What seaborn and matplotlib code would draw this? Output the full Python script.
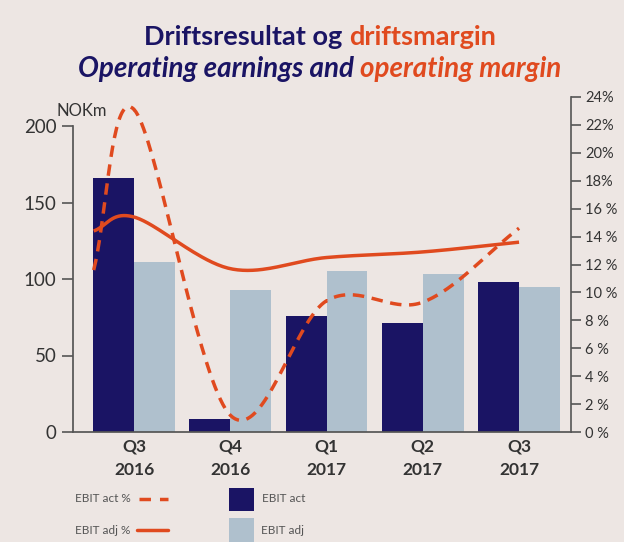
import numpy as np
import pandas as pd
import matplotlib
matplotlib.use("Agg")
import matplotlib.pyplot as plt
import seaborn as sns
from matplotlib.lines import Line2D
from matplotlib.patches import Rectangle

# ---- data ----
quarters = ["Q3\n2016", "Q4\n2016", "Q1\n2017", "Q2\n2017", "Q3\n2017"]
ebit_act = [166, 8.5, 76, 71, 98]
ebit_adj = [111, 93, 105, 103, 95]
# margin lines (the lines start at the left edge of the first group)
line_x = [-0.42, 0, 1, 2, 3, 4]
ebit_act_pct = [11.6, 23.1, 1.2, 9.4, 9.3, 14.6]
ebit_adj_pct = [14.4, 15.4, 11.7, 12.5, 12.9, 13.6]
left_ticks = [0, 50, 100, 150, 200]
right_ticks = list(range(0, 25, 2))
right_labels = ["0 %", "2 %", "4 %", "6 %", "8 %", "10 %", "12 %", "14 %", "16 %",
                "18%", "20%", "22%", "24%"]

NAVY = "#1a1464"
LIGHT = "#afc0cd"
ORANGE = "#e04a1f"
BG = "#ede6e3"
GREY = "#555555"

sns.set_theme(style="white")
plt.rcParams["font.family"] = ["Lato", "DejaVu Sans"]

W, H = 624, 542
fig = plt.figure(figsize=(W / 100, H / 100), dpi=100, facecolor=BG)

def fx(x):
    return x / W

def fy(y):
    return 1 - y / H

ax = fig.add_axes([fx(73), fy(432), fx(571) - fx(73), fy(97) - fy(432)])
ax.set_facecolor(BG)

df = pd.DataFrame({
    "quarter": quarters * 2,
    "value": ebit_act + ebit_adj,
    "series": ["EBIT act"] * 5 + ["EBIT adj"] * 5,
})
sns.barplot(data=df, x="quarter", y="value", hue="series", order=quarters,
            palette={"EBIT act": NAVY, "EBIT adj": LIGHT}, width=0.85,
            saturation=1, legend=False, ax=ax, linewidth=0)

y_top = 200 * (432 - 97) / (432 - 126)
ax.set_ylim(0, y_top)
ax.set_xlim(-0.635, 4.54)
ax.set_yticks(left_ticks)
ax.set_yticklabels([str(t) for t in left_ticks], fontsize=13.5, color="#333333")
ax.set_xticks(range(5))
ax.set_xticklabels(quarters, fontsize=12.5, fontweight="bold", color="#333333",
                   linespacing=1.55)
ax.set_xlabel("")
ax.set_ylabel("")
for s in ["top", "right"]:
    ax.spines[s].set_visible(False)
ax.spines["left"].set_bounds(0, 200)
ax.spines["left"].set_color("#555555")
ax.spines["bottom"].set_color("#555555")
ax.tick_params(axis="y", direction="out", length=8, width=1.2, color="#555555", pad=4, left=True)
ax.tick_params(axis="x", length=0, pad=5)

ax2 = ax.twinx()
ax2.set_ylim(0, 24)
ax2.set_yticks(right_ticks)
ax2.set_yticklabels(right_labels, fontsize=10.5, color="#333333")
for s in ["top", "left", "bottom"]:
    ax2.spines[s].set_visible(False)
ax2.spines["right"].set_color("#555555")
ax2.spines["right"].set_linewidth(1.2)
ax2.tick_params(axis="y", direction="out", length=7, width=1.2, color="#555555", pad=3, right=True)


def catmull(xs, ys, n=40):
    xs = np.asarray(xs, float)
    ys = np.asarray(ys, float)
    P = np.column_stack([xs, ys])
    P = np.vstack([P[0] - (P[1] - P[0]), P, P[-1] + (P[-1] - P[-2])])
    out = []
    for i in range(1, len(P) - 2):
        p0, p1, p2, p3 = P[i - 1], P[i], P[i + 1], P[i + 2]
        t = np.linspace(0, 1, n)[:, None]
        seg = 0.5 * ((2 * p1) + (-p0 + p2) * t + (2 * p0 - 5 * p1 + 4 * p2 - p3) * t ** 2
                     + (-p0 + 3 * p1 - 3 * p2 + p3) * t ** 3)
        out.append(seg)
    out = np.vstack(out)
    return out[:, 0], out[:, 1]

sx, sy = catmull(line_x, ebit_adj_pct)
ax2.plot(sx, sy, color=ORANGE, lw=2.5, solid_capstyle="butt")
dx, dy = catmull(line_x, ebit_act_pct)
ax2.plot(dx, dy, color=ORANGE, lw=2.5, dashes=(3.3, 2.2))

# ---- NOKm label ----
fig.text(fx(56), fy(111), "NOKm", fontsize=12, color="#333333", va="center", ha="left")

# ---- title (two colours per line) ----
renderer = fig.canvas.get_renderer()

def two_tone(y, parts, style, size, cx):
    texts = []
    for s, c in parts:
        t = fig.text(0, fy(y), s, color=c, fontsize=size, fontweight="bold",
                     style=style, va="center", ha="left")
        texts.append(t)
    widths = [t.get_window_extent(renderer).width for t in texts]
    total = sum(widths)
    x0 = cx - total / 2
    for t, w in zip(texts, widths):
        t.set_x(x0 / W)
        x0 += w

two_tone(37, [("Driftsresultat og ", NAVY), ("driftsmargin", ORANGE)], "normal", 19.5, 320)
two_tone(69, [("Operating earnings and ", NAVY), ("operating margin", ORANGE)], "italic", 20, 320)

# ---- legend ----
lg = dict(fontsize=8.5, color=GREY, va="center", ha="left")
fig.text(fx(75), fy(499), "EBIT act %", **lg)
fig.add_artist(Line2D([fx(139), fx(168)], [fy(499), fy(499)], color=ORANGE, lw=2.5,
                      dashes=(3.3, 2.6), transform=fig.transFigure))
fig.text(fx(75), fy(530), "EBIT adj %", **lg)
fig.add_artist(Line2D([fx(137), fx(168)], [fy(530), fy(530)], color=ORANGE, lw=2.5,
                      transform=fig.transFigure))
fig.add_artist(Rectangle((fx(229), fy(511)), fx(254) - fx(229), fy(488) - fy(511),
                         color=NAVY, transform=fig.transFigure, lw=0))
fig.text(fx(262), fy(499), "EBIT act", **lg)
fig.add_artist(Rectangle((fx(229), fy(542)), fx(254) - fx(229), fy(518) - fy(542),
                         color=LIGHT, transform=fig.transFigure, lw=0))
fig.text(fx(261), fy(530), "EBIT adj", **lg)

fig.savefig("out.png", dpi=100, facecolor=BG)
